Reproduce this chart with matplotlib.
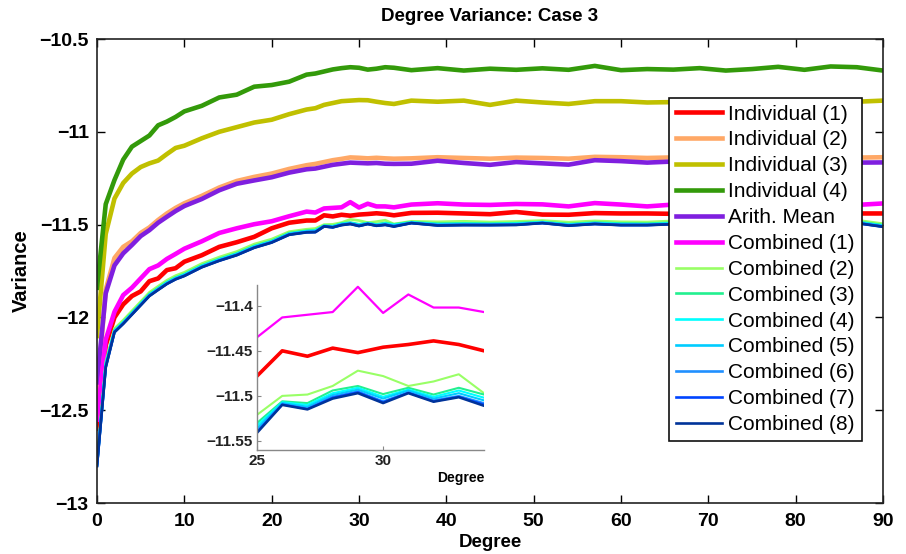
import matplotlib
matplotlib.use("Agg")
import matplotlib.pyplot as plt

plt.rcParams['font.family'] = ['Liberation Sans', 'DejaVu Sans']

deg = [0, 1, 2, 3, 4, 5, 6, 7, 8, 9, 10, 12, 14, 16, 18, 20, 22, 24,
       25, 26, 27, 28, 29, 30, 31, 32, 33, 34,
       36, 39, 42, 45, 48, 51, 54, 57, 60, 63, 66, 69, 72, 75, 78, 81, 84, 87, 90]

ind1 = [-12.6, -12.15, -12.0, -11.93, -11.885, -11.86, -11.805, -11.79, -11.745, -11.735, -11.70,
        -11.665, -11.62, -11.595, -11.566, -11.52, -11.49, -11.478,
        -11.478, -11.450, -11.456, -11.447, -11.452, -11.446, -11.443, -11.439, -11.443, -11.450,
        -11.437, -11.436, -11.44, -11.444, -11.432, -11.446, -11.447, -11.438, -11.44, -11.44,
        -11.442, -11.44, -11.443, -11.44, -11.442, -11.44, -11.441, -11.44, -11.44]
ind2 = [-12.42, -11.85, -11.68, -11.62, -11.59, -11.545, -11.515, -11.475, -11.44, -11.41, -11.385,
        -11.345, -11.30, -11.265, -11.243, -11.225, -11.2, -11.18,
        -11.173, -11.163, -11.153, -11.146, -11.138, -11.14, -11.143, -11.14, -11.143, -11.145,
        -11.143, -11.137, -11.141, -11.145, -11.139, -11.141, -11.145, -11.135, -11.137, -11.141,
        -11.138, -11.141, -11.137, -11.142, -11.138, -11.141, -11.137, -11.139, -11.137]
ind3 = [-12.10, -11.55, -11.36, -11.276, -11.225, -11.19, -11.17, -11.155, -11.12, -11.087, -11.075,
        -11.035, -11.00, -10.975, -10.95, -10.935, -10.905, -10.88,
        -10.873, -10.855, -10.845, -10.835, -10.832, -10.829, -10.83, -10.838, -10.845, -10.85,
        -10.832, -10.838, -10.832, -10.855, -10.832, -10.842, -10.85, -10.835, -10.835, -10.842,
        -10.84, -10.838, -10.842, -10.836, -10.84, -10.838, -10.842, -10.838, -10.832]
ind4 = [-11.84, -11.39, -11.26, -11.15, -11.08, -11.05, -11.02, -10.965, -10.945, -10.92, -10.89,
        -10.86, -10.815, -10.80, -10.757, -10.748, -10.73, -10.692,
        -10.686, -10.675, -10.664, -10.657, -10.652, -10.655, -10.665, -10.66, -10.652, -10.655,
        -10.668, -10.657, -10.67, -10.66, -10.666, -10.658, -10.666, -10.645, -10.668, -10.662,
        -10.665, -10.657, -10.67, -10.662, -10.65, -10.666, -10.648, -10.652, -10.67]
mean = [-12.35, -11.87, -11.72, -11.655, -11.61, -11.562, -11.53, -11.49, -11.458, -11.427, -11.40,
        -11.362, -11.315, -11.28, -11.262, -11.245, -11.22, -11.202,
        -11.198, -11.188, -11.178, -11.172, -11.166, -11.168, -11.17, -11.168, -11.172, -11.173,
        -11.172, -11.156, -11.168, -11.178, -11.163, -11.17, -11.177, -11.153, -11.158, -11.166,
        -11.16, -11.168, -11.162, -11.17, -11.16, -11.168, -11.162, -11.166, -11.165]
comb1 = [-12.55, -12.12, -11.97, -11.88, -11.84, -11.79, -11.74, -11.72, -11.685, -11.658, -11.63,
         -11.59, -11.545, -11.52, -11.498, -11.482, -11.455, -11.43,
         -11.435, -11.413, -11.410, -11.407, -11.379, -11.408, -11.3875, -11.402, -11.402, -11.407,
         -11.392, -11.385, -11.392, -11.394, -11.389, -11.391, -11.402, -11.384, -11.392, -11.402,
         -11.392, -11.396, -11.39, -11.394, -11.388, -11.395, -11.39, -11.394, -11.386]
comb2 = [-12.78, -12.24, -12.06, -12.015, -11.965, -11.915, -11.865, -11.832, -11.80, -11.775, -11.757,
         -11.71, -11.675, -11.645, -11.605, -11.578, -11.538, -11.525,
         -11.521, -11.500, -11.4985, -11.489, -11.472, -11.478, -11.489, -11.484, -11.476, -11.497,
         -11.482, -11.485, -11.482, -11.486, -11.483, -11.478, -11.487, -11.48, -11.485, -11.486,
         -11.48, -11.484, -11.482, -11.486, -11.481, -11.484, -11.483, -11.476, -11.495]
comb3 = [-12.79, -12.25, -12.07, -12.025, -11.975, -11.925, -11.875, -11.842, -11.81, -11.785, -11.767,
         -11.72, -11.685, -11.655, -11.615, -11.588, -11.546, -11.533,
         -11.530, -11.506, -11.508, -11.494, -11.489, -11.498, -11.491, -11.4985, -11.491, -11.4985,
         -11.487, -11.495, -11.493, -11.495, -11.492, -11.486, -11.497, -11.489, -11.494, -11.495,
         -11.49, -11.494, -11.491, -11.495, -11.49, -11.494, -11.492, -11.484, -11.503]
comb4 = [-12.79, -12.255, -12.073, -12.028, -11.978, -11.928, -11.878, -11.845, -11.813, -11.788, -11.77,
         -11.723, -11.688, -11.658, -11.618, -11.591, -11.549, -11.536,
         -11.533, -11.507, -11.510, -11.497, -11.491, -11.501, -11.493, -11.501, -11.494, -11.502,
         -11.489, -11.498, -11.496, -11.497, -11.495, -11.488, -11.5, -11.492, -11.497, -11.498,
         -11.493, -11.497, -11.494, -11.498, -11.493, -11.497, -11.495, -11.487, -11.506]
comb5 = [-12.795, -12.26, -12.075, -12.03, -11.98, -11.93, -11.88, -11.848, -11.816, -11.79, -11.773,
         -11.726, -11.691, -11.661, -11.621, -11.593, -11.551, -11.538,
         -11.536, -11.508, -11.512, -11.499, -11.493, -11.503, -11.494, -11.503, -11.497, -11.505,
         -11.49, -11.5, -11.499, -11.5, -11.498, -11.49, -11.502, -11.494, -11.5, -11.5,
         -11.495, -11.499, -11.496, -11.5, -11.495, -11.499, -11.497, -11.489, -11.508]
comb6 = [-12.8, -12.265, -12.078, -12.032, -11.982, -11.932, -11.882, -11.85, -11.818, -11.793, -11.775,
         -11.728, -11.693, -11.663, -11.623, -11.595, -11.553, -11.54,
         -11.539, -11.509, -11.514, -11.501, -11.495, -11.506, -11.496, -11.505, -11.5, -11.508,
         -11.491, -11.503, -11.501, -11.502, -11.5, -11.491, -11.504, -11.496, -11.502, -11.502,
         -11.497, -11.501, -11.498, -11.502, -11.497, -11.501, -11.499, -11.491, -11.51]
comb7 = [-12.8, -12.268, -12.079, -12.034, -11.984, -11.934, -11.884, -11.851, -11.819, -11.794, -11.776,
         -11.729, -11.694, -11.664, -11.624, -11.596, -11.554, -11.541,
         -11.540, -11.5095, -11.5145, -11.502, -11.496, -11.507, -11.4965, -11.506, -11.501, -11.5095,
         -11.4915, -11.504, -11.502, -11.5025, -11.501, -11.4915, -11.505, -11.4965, -11.5025, -11.5025,
         -11.4975, -11.5015, -11.4985, -11.5025, -11.4975, -11.5015, -11.4995, -11.4915, -11.511]
comb8 = [-12.80, -12.27, -12.08, -12.035, -11.985, -11.935, -11.885, -11.852, -11.82, -11.795, -11.777,
         -11.73, -11.695, -11.665, -11.625, -11.597, -11.555, -11.542,
         -11.541, -11.510, -11.515, -11.503, -11.497, -11.508, -11.497, -11.5065, -11.5015, -11.511,
         -11.492, -11.505, -11.503, -11.503, -11.502, -11.492, -11.506, -11.497, -11.503, -11.503,
         -11.498, -11.502, -11.499, -11.503, -11.498, -11.502, -11.5, -11.492, -11.512]

labels = ['Individual (1)', 'Individual (2)', 'Individual (3)', 'Individual (4)', 'Arith. Mean',
          'Combined (1)', 'Combined (2)', 'Combined (3)', 'Combined (4)', 'Combined (5)',
          'Combined (6)', 'Combined (7)', 'Combined (8)']
series = [ind1, ind2, ind3, ind4, mean, comb1, comb2, comb3, comb4, comb5, comb6, comb7, comb8]
colors = ['#ff0000', '#ffa866', '#c0c000', '#339a0a', '#7f1fdf', '#ff00ff',
          '#99ff66', '#22f08f', '#00ffff', '#00ccff', '#2090ff', '#0044ff', '#003399']
widths = [3.3, 3.3, 3.3, 3.3, 3.3, 3.3, 1.9, 1.9, 1.9, 1.9, 1.9, 1.9, 1.9]
inset_widths = [2.6, 1.8, 1.8, 1.8, 1.8, 1.6, 1.5, 1.5, 1.5, 1.5, 1.5, 1.5, 1.8]

fig = plt.figure(figsize=(9.06, 5.54), dpi=100)
ax = fig.add_axes([97 / 906, 51 / 554, 786 / 906, 464 / 554])
for y, c, lw, lab in zip(series, colors, widths, labels):
    ax.plot(deg, y, color=c, lw=lw, label=lab, solid_joinstyle='round')

ax.set_xlim(0, 90)
ax.set_ylim(-13, -10.5)
ax.set_xticks(range(0, 91, 10))
ax.set_yticks([-13, -12.5, -12, -11.5, -11, -10.5])
ax.set_yticklabels(['\u221213', '\u221212.5', '\u221212', '\u221211.5', '\u221211', '\u221210.5'])
ax.tick_params(direction='in', top=True, right=True, length=6, width=1.0,
               labelsize=14, pad=6)
ax.tick_params(axis='x', pad=7)
for t in ax.get_xticklabels() + ax.get_yticklabels():
    t.set_fontweight('bold')
for s in ax.spines.values():
    s.set_linewidth(1.2)
    s.set_color('#222222')
ax.set_title('Degree Variance: Case 3', fontsize=13.5, fontweight='bold', pad=13)
ax.set_xlabel('Degree', fontsize=13.5, fontweight='bold', labelpad=3)
ax.set_ylabel('Variance', fontsize=14.5, fontweight='bold', labelpad=6)

leg = ax.legend(loc='upper right', bbox_to_anchor=(0.9729, 0.8735), borderaxespad=0,
                fontsize=15, labelspacing=0.33, handlelength=2.2, handletextpad=0.3,
                borderpad=0.33, fancybox=False, framealpha=1, edgecolor='#111111')
leg.get_frame().set_linewidth(1.2)

# inset
axi = fig.add_axes([257 / 906, 104 / 554, 227 / 906, 165 / 554])
for y, c, lw in zip(series, colors, inset_widths):
    axi.plot(deg, y, color=c, lw=lw)
axi.set_xlim(25, 34)
axi.set_ylim(-11.56, -11.377)
axi.set_xticks([25, 30])
axi.set_yticks([-11.55, -11.5, -11.45, -11.4])
axi.set_yticklabels(['\u221211.55', '\u221211.5', '\u221211.45', '\u221211.4'])
axi.tick_params(direction='in', length=3, width=0.8, labelsize=11, pad=3, colors='#888888',
                labelcolor='#222222')
for t in axi.get_xticklabels() + axi.get_yticklabels():
    t.set_fontweight('bold')
axi.spines['top'].set_visible(False)
axi.spines['right'].set_visible(False)
for k in ('left', 'bottom'):
    axi.spines[k].set_color('#888888')
    axi.spines[k].set_linewidth(1.0)
axi.set_xlabel('Degree', fontsize=10, fontweight='bold', labelpad=2, loc='right')

fig.savefig('out.png', dpi=100)
